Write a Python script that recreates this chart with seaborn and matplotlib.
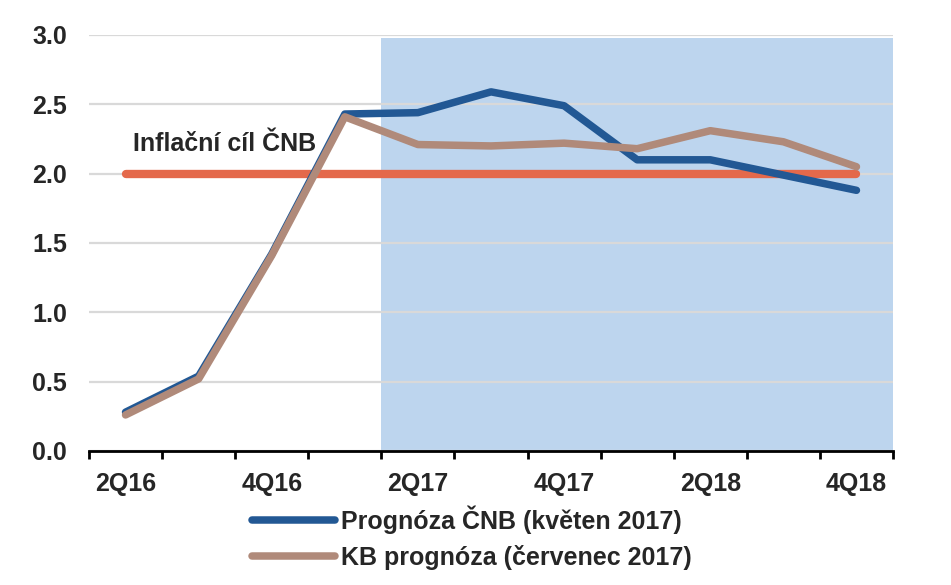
import numpy as np
import pandas as pd
import seaborn as sns
import matplotlib.pyplot as plt
from matplotlib.lines import Line2D

# data
quarters = ['2Q16', '3Q16', '4Q16', '1Q17', '2Q17', '3Q17', '4Q17',
            '1Q18', '2Q18', '3Q18', '4Q18']
cnb = [0.28, 0.54, 1.42, 2.43, 2.44, 2.59, 2.49, 2.10, 2.10, 1.99, 1.88]
kb = [0.26, 0.52, 1.41, 2.41, 2.21, 2.20, 2.22, 2.18, 2.31, 2.23, 2.05]
target = [2.0] * len(quarters)
tick_labels = ['2Q16', '4Q16', '2Q17', '4Q17', '2Q18', '4Q18']
series_names = ['Prognóza ČNB (květen 2017)', 'KB prognóza (červenec 2017)']

sns.set_style('white')
plt.rcParams['font.family'] = ['Liberation Sans', 'DejaVu Sans']
plt.rcParams['font.weight'] = 'bold'

df = pd.DataFrame({
    'q': quarters * 2,
    'val': cnb + kb,
    'serie': [series_names[0]] * len(quarters) + [series_names[1]] * len(quarters),
})
df_t = pd.DataFrame({'q': quarters, 'val': target})

colors = {series_names[0]: '#225894', series_names[1]: '#B08A7A'}
target_color = '#E4694B'

fig = plt.figure(figsize=(9.51, 5.85), dpi=100)
ax = fig.add_axes([89 / 951, 1 - 451 / 585, (893 - 89) / 951, (451 - 35) / 585])

# forecast period shading
ax.axvspan(3.5, 10.5, ymin=0, ymax=0.993, color='#BDD5EE', lw=0, zorder=0)

# gridlines
ax.set_axisbelow('line')
ax.yaxis.grid(True, color='#D9D9D9', lw=1.6, zorder=1)

sns.lineplot(data=df_t, x='q', y='val', color=target_color, lw=6,
             ax=ax, legend=False, solid_capstyle='round', zorder=2)
sns.lineplot(data=df, x='q', y='val', hue='serie', palette=colors, lw=5.4,
             ax=ax, legend=False, solid_capstyle='round', zorder=3)

ax.text(0.1, 2.13, 'Inflační cíl ČNB', fontsize=18, fontweight='bold',
        ha='left', va='bottom', zorder=4)

ax.set_xlim(-0.5, 10.5)
ax.set_ylim(0, 3.0)
ax.set_yticks(np.arange(0, 3.01, 0.5))
ax.set_yticklabels([f'{v:.1f}' for v in np.arange(0, 3.01, 0.5)])
ax.tick_params(axis='y', length=0, pad=16, labelsize=18)

ax.set_xticks(np.arange(-0.5, 11, 1))
ax.set_xticklabels([])
ax.tick_params(axis='x', which='major', direction='out', length=6, width=2,
               color='black', bottom=True)
ax.set_xticks([quarters.index(t) for t in tick_labels], tick_labels, minor=True)
ax.tick_params(axis='x', which='minor', length=0, pad=15, labelsize=18)

ax.set_xlabel('')
ax.set_ylabel('')
for s in ['top', 'right', 'left']:
    ax.spines[s].set_visible(False)
ax.spines['bottom'].set_linewidth(2)
ax.spines['bottom'].set_color('black')
ax.spines['bottom'].set_zorder(5)

handles = [Line2D([], [], color=colors[n], lw=5.4, solid_capstyle='round')
           for n in series_names]
fig.legend(handles, series_names, loc='upper left',
           bbox_to_anchor=(252 / 951, 1 - 505 / 585), frameon=False,
           fontsize=18, handlelength=3.3, handletextpad=0.25,
           labelspacing=0.45, borderpad=0, borderaxespad=0)

fig.savefig('out.png', dpi=100)
